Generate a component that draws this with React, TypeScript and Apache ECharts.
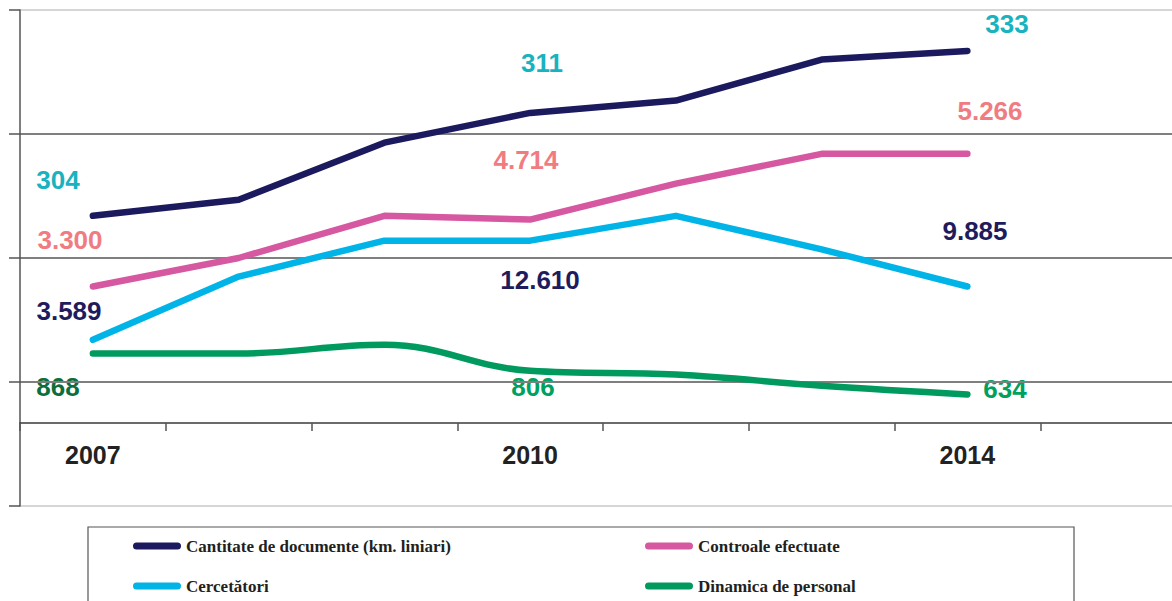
import React, { useEffect, useRef } from "react";
import * as echarts from "echarts";

// ---- data ----
const categories = ["2007", "2008", "2009", "2010", "2011", "2012", "2014", ""];
const shownYearIdx = [0, 3, 6];

const seriesNames = [
  "Cantitate de documente (km. liniari)",
  "Controale efectuate",
  "Cercetători",
  "Dinamica de personal",
];
// relative (index-like) line values
const cantitate = [234, 247, 293, 317, 327, 360, 367];
const controale = [177, 200, 234, 231, 260, 284, 284];
const cercetatori = [134, 185, 214, 214, 234, 207, 177];
const personal = [123, 123, 130, 109, 106, 97, 90];

// value annotations written on the chart (2007, 2010, 2014)
const kmLabels = ["304", "311", "333"];
const controaleLabels = ["3.300", "4.714", "5.266"];
const cercetatoriLabels = ["3.589", "12.610", "9.885"];
const personalLabels = ["868", "806", "634"];

const COLORS = ["#1c1a5e", "#d558a0", "#00b4e8", "#009a5e"];

export default function App() {
  const ref = useRef<HTMLDivElement>(null);

  useEffect(() => {
    if (!ref.current) return;
    const chart = echarts.init(ref.current, undefined, { renderer: "svg" });

    const labelFont = 'bold 26px "Liberation Sans", Arial, sans-serif';
    const mkText = (text: string, x: number, y: number, fill: string) => ({
      type: "text",
      x,
      y,
      silent: true,
      style: {
        text,
        fill,
        font: labelFont,
        textAlign: "center",
        textVerticalAlign: "middle",
        align: "center",
        verticalAlign: "middle",
      },
    });

    // annotation placement (pixel centres) per year column
    const annX = {
      km: [58, 542, 1007],
      ctrl: [70, 526, 990],
      cerc: [69, 540, 975],
      pers: [58, 533, 1005],
    };
    const annY = {
      km: [180, 63, 24],
      ctrl: [240, 160, 111],
      cerc: [311, 280, 231],
      pers: [387, 387, 389],
    };
    const teal = "#18b3bf";
    const salmon = "#f07c82";
    const navy = "#1f1c5d";
    const greens = ["#0d6e3d", "#00a05f", "#00a05f"];

    const texts: any[] = [];
    kmLabels.forEach((t, i) => texts.push(mkText(t, annX.km[i], annY.km[i], teal)));
    controaleLabels.forEach((t, i) => texts.push(mkText(t, annX.ctrl[i], annY.ctrl[i], salmon)));
    cercetatoriLabels.forEach((t, i) => texts.push(mkText(t, annX.cerc[i], annY.cerc[i], navy)));
    personalLabels.forEach((t, i) => texts.push(mkText(t, annX.pers[i], annY.pers[i], greens[i])));

    const capsule = "path://M3.5,0H44.5A3.5,3.5,0,0,1,44.5,7H3.5A3.5,3.5,0,0,1,3.5,0Z";
    const legendText = {
      fontFamily: '"Liberation Serif", "Times New Roman", serif',
      fontWeight: "bold" as const,
      fontSize: 17,
      color: "#231f20",
      lineHeight: 20,
    };

    const values = [cantitate, controale, cercetatori, personal];

    chart.setOption({
      animation: false,
      backgroundColor: "#ffffff",
      grid: {
        left: 20,
        width: 1166,
        top: 10,
        height: 496,
        containLabel: false,
        outerBoundsMode: "none",
      },
      xAxis: {
        type: "category",
        data: categories,
        boundaryGap: true,
        position: "bottom",
        offset: -83,
        axisLine: { show: true, onZero: false, lineStyle: { color: "#3a3a3a", width: 1.5 } },
        axisTick: { show: true, interval: 0, length: 8, lineStyle: { color: "#555", width: 1.5 } },
        axisLabel: {
          interval: (idx: number) => shownYearIdx.includes(idx),
          margin: 20,
          fontFamily: '"Liberation Sans", Arial, sans-serif',
          fontWeight: "bold",
          fontSize: 25,
          lineHeight: 24,
          color: "#222",
        },
        splitLine: { show: false },
      },
      yAxis: {
        type: "value",
        min: 0,
        max: 400,
        interval: 100,
        axisLine: { show: true, lineStyle: { color: "#555", width: 1.5 } },
        axisTick: { show: true, length: 11, lineStyle: { color: "#555", width: 1.5 } },
        axisLabel: { show: false },
        splitLine: {
          show: true,
          lineStyle: {
            color: ["#d6d6d6", "#7f7f7f", "#7f7f7f", "#7f7f7f", "#d6d6d6"],
            width: 2,
          },
        },
      },
      legend: [
        {
          orient: "vertical",
          left: 133,
          top: 536,
          padding: 0,
          itemWidth: 48,
          itemHeight: 7,
          itemGap: 20,
          icon: capsule,
          textStyle: legendText,
          data: [seriesNames[0], seriesNames[2]],
        },
        {
          orient: "vertical",
          left: 645,
          top: 536,
          padding: 0,
          itemWidth: 48,
          itemHeight: 7,
          itemGap: 20,
          icon: capsule,
          textStyle: legendText,
          data: [seriesNames[1], seriesNames[3]],
        },
      ],
      series: values.map((v, i) => ({
        name: seriesNames[i],
        type: "line",
        data: v,
        color: COLORS[i],
        symbol: "none",
        smooth: i === 3 ? 0.4 : false,
        lineStyle: { width: 6.5, color: COLORS[i], cap: "round", join: "round" },
        z: 5 - i,
      })),
      graphic: [
        {
          type: "rect",
          shape: { x: 88, y: 527, width: 986, height: 120 },
          style: { fill: "none", stroke: "#555", lineWidth: 1.2 },
          silent: true,
        },
        ...texts,
      ],
    });

    return () => chart.dispose();
  }, []);

  return (
    <div
      ref={ref}
      style={{ position: "fixed", left: 0, top: 0, width: 1172, height: 601, background: "#fff" }}
    />
  );
}
